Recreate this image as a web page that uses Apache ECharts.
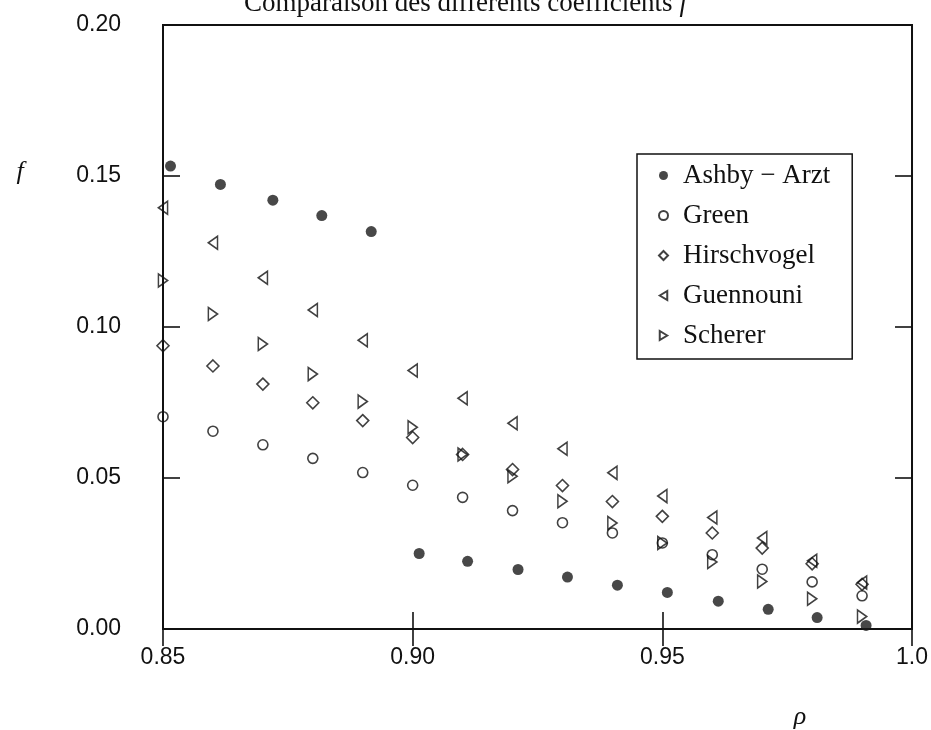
<!DOCTYPE html>
<html>
<head>
<meta charset="utf-8">
<script src="https://cdn.jsdelivr.net/npm/echarts@6/dist/echarts.min.js"></script>
<style>
  html, body { margin: 0; padding: 0; background: #fff; }
  #chart { width: 931px; height: 730px; }
</style>
</head>
<body>
<div id="chart"></div>
<script>
// density values (x) for the open-symbol series
const rho = [0.85, 0.86, 0.87, 0.88, 0.89, 0.90, 0.91, 0.92, 0.93, 0.94, 0.95, 0.96, 0.97, 0.98, 0.99];
// Ashby-Arzt points sit a little to the right
const rhoAshby = [0.8515, 0.8615, 0.872, 0.8818, 0.8917, 0.9013, 0.911, 0.9211, 0.931, 0.941, 0.951, 0.9612, 0.9712, 0.981, 0.9908];

const ashbyArzt = [0.1533, 0.1472, 0.1420, 0.1369, 0.1316, 0.0250, 0.0224, 0.0197, 0.0172, 0.0145, 0.0121, 0.0092, 0.0065, 0.0038, 0.0012];
const green = [0.0703, 0.0655, 0.0610, 0.0565, 0.0518, 0.0476, 0.0436, 0.0392, 0.0352, 0.0318, 0.0285, 0.0246, 0.0198, 0.0156, 0.0110];
const hirschvogel = [0.0938, 0.0871, 0.0811, 0.0749, 0.0690, 0.0634, 0.0578, 0.0528, 0.0475, 0.0422, 0.0373, 0.0318, 0.0268, 0.0216, 0.0148];
const guennouni = [0.1395, 0.1279, 0.1163, 0.1056, 0.0956, 0.0856, 0.0764, 0.0681, 0.0597, 0.0517, 0.0440, 0.0369, 0.0301, 0.0226, 0.0154];
const scherer = [0.1154, 0.1043, 0.0944, 0.0844, 0.0753, 0.0668, 0.0578, 0.0506, 0.0423, 0.0351, 0.0285, 0.0222, 0.0157, 0.0100, 0.0041];

const xTicks = [0.85, 0.90, 0.95, 1.0];
const xTickLabels = ['0.85', '0.90', '0.95', '1.0'];
const yTicks = [0, 0.05, 0.10, 0.15, 0.20];
const yTickLabels = ['0.00', '0.05', '0.10', '0.15', '0.20'];

const names = ['Ashby \u2212 Arzt', 'Green', 'Hirschvogel', 'Guennouni', 'Scherer'];

const pickLabel = (ticks, labels) => (v) => {
  let best = 0;
  ticks.forEach((t, i) => {
    if (Math.abs(t - v) < Math.abs(ticks[best] - v)) best = i;
  });
  return labels[best];
};

const SERIF = '"Liberation Serif", "DejaVu Serif", serif';
const SANS = '"Liberation Sans", Arial, sans-serif';

const openStyle = {
  color: 'rgba(0,0,0,0)',
  borderColor: '#111',
  borderWidth: 1.6
};

const triLeft = 'path://M0,6L10,0L10,12Z';
const triRight = 'path://M10,6L0,0L0,12Z';

const pts = (xs, ys) => ys.map((y, i) => [xs[i], y]);

const tickStyle = { show: true, inside: true, length: 17, lineStyle: { color: '#111', width: 1.6 } };

const hiddenAxis = {
  axisLine: { show: false },
  axisLabel: { show: false },
  splitLine: { show: false },
  axisTick: tickStyle
};

const chart = echarts.init(document.getElementById('chart'), null, { renderer: 'canvas' });

chart.setOption({
  animation: false,
  backgroundColor: '#fff',
  grid: {
    show: true,
    left: 163,
    right: 13,
    top: 25,
    bottom: 101,
    borderColor: '#111',
    borderWidth: 2,
    backgroundColor: 'transparent'
  },
  xAxis: [
    {
      type: 'value',
      min: 0.85,
      max: 1.0,
      interval: 0.05,
      axisLine: { show: false },
      splitLine: { show: false },
      axisTick: tickStyle,
      axisLabel: {
        margin: 17,
        fontFamily: SANS,
        fontSize: 23,
        color: '#111',
        formatter: pickLabel(xTicks, xTickLabels)
      }
    },
    { ...hiddenAxis, type: 'value', position: 'top', min: 0.85, max: 1.0, interval: 0.05 }
  ],
  yAxis: [
    {
      type: 'value',
      min: 0,
      max: 0.2,
      interval: 0.05,
      axisLine: { show: false },
      splitLine: { show: false },
      axisTick: tickStyle,
      axisLabel: {
        margin: 42,
        fontFamily: SANS,
        fontSize: 23,
        color: '#111',
        formatter: pickLabel(yTicks, yTickLabels)
      }
    },
    { ...hiddenAxis, type: 'value', position: 'right', min: 0, max: 0.2, interval: 0.05 }
  ],
  legend: {
    orient: 'vertical',
    left: 637,
    top: 154,
    padding: [8, 22, 10, 21],
    itemGap: 13,
    itemWidth: 9,
    itemHeight: 9,
    borderColor: '#111',
    borderWidth: 1.5,
    backgroundColor: '#fff',
    selectedMode: false,
    textStyle: {
      fontFamily: SERIF,
      fontSize: 27,
      color: '#111',
      padding: [0, 0, 0, 10]
    },
    data: names
  },
  graphic: [
    {
      type: 'text',
      left: 244,
      top: -10,
      style: {
        text: '{n|Comparaison des diff\u00e9rents coefficients }{i|f}',
        rich: {
          n: { fontFamily: SERIF, fontSize: 27, fill: '#111' },
          i: { fontFamily: SERIF, fontSize: 27, fontStyle: 'italic', fill: '#111' }
        }
      }
    },
    {
      type: 'text',
      x: 20,
      y: 172,
      style: {
        text: 'f',
        font: 'italic 26px ' + SERIF,
        fill: '#111',
        align: 'center',
        verticalAlign: 'middle'
      }
    },
    {
      type: 'text',
      x: 800,
      y: 717,
      style: {
        text: '\u03c1',
        font: 'italic 26px ' + SERIF,
        fill: '#111',
        align: 'center',
        verticalAlign: 'middle'
      }
    }
  ],
  series: [
    {
      name: names[0],
      type: 'scatter',
      symbol: 'circle',
      symbolSize: 11,
      itemStyle: { color: '#1a1a1a' },
      emphasis: { disabled: true },
      data: pts(rhoAshby, ashbyArzt)
    },
    {
      name: names[1],
      type: 'scatter',
      symbol: 'circle',
      symbolSize: 10,
      itemStyle: openStyle,
      emphasis: { disabled: true },
      data: pts(rho, green)
    },
    {
      name: names[2],
      type: 'scatter',
      symbol: 'diamond',
      symbolSize: 12,
      itemStyle: openStyle,
      emphasis: { disabled: true },
      data: pts(rho, hirschvogel)
    },
    {
      name: names[3],
      type: 'scatter',
      symbol: triLeft,
      symbolKeepAspect: true,
      symbolSize: [11, 13],
      itemStyle: openStyle,
      emphasis: { disabled: true },
      data: pts(rho, guennouni)
    },
    {
      name: names[4],
      type: 'scatter',
      symbol: triRight,
      symbolKeepAspect: true,
      symbolSize: [11, 13],
      itemStyle: openStyle,
      emphasis: { disabled: true },
      data: pts(rho, scherer)
    }
  ]
});
</script>
</body>
</html>
